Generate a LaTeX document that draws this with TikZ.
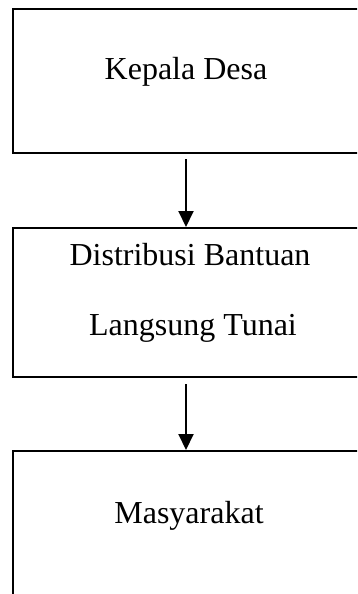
\documentclass[tikz,border=0pt]{standalone}
\usepackage{fontspec}
\setmainfont{Liberation Serif}
\usetikzlibrary{arrows.meta}
\begin{document}
\begin{tikzpicture}[x=1pt,y=-1pt,
  box/.style={draw,line width=2pt,minimum width=354pt,inner sep=0pt,anchor=north},
  lbl/.style={font=\fontsize{32}{38}\selectfont,anchor=base,inner sep=0pt},
  arr/.style={line width=2pt,-{Triangle[width=15pt,length=16pt]}}]
\useasboundingbox (0,0) rectangle (357,594);
\clip (0,0) rectangle (357,594);
\node[box,minimum height=144pt] (kd) at (190,8) {};
\node[box,minimum height=149pt] (dist) at (190,227) {};
\node[box,minimum height=180pt] (mas) at (190,450) {};
\node[lbl] (t1) at (186,80) {Kepala Desa};
\node[lbl] (t2) at (190,265) {Distribusi Bantuan};
\node[lbl] (t3) at (193,335) {Langsung Tunai};
\node[lbl] (t4) at (189,523) {Masyarakat};
\draw[arr] ([xshift=-4pt,yshift=-5pt]kd.south) -- ([xshift=-4pt]dist.north);
\draw[arr] ([xshift=-4pt,yshift=-6pt]dist.south) -- ([xshift=-4pt]mas.north);
\end{tikzpicture}
\end{document}
